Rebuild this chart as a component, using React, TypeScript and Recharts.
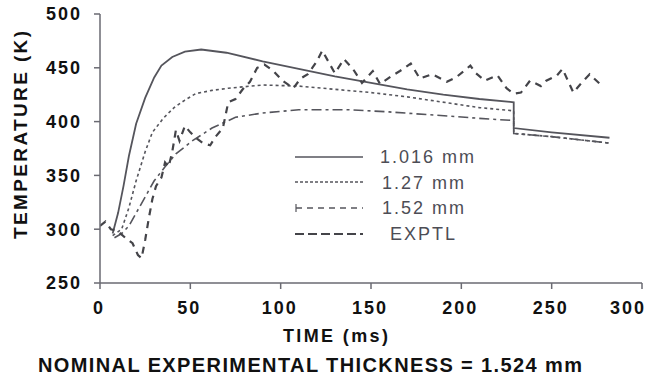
import { LineChart, Line, XAxis, YAxis } from "recharts";

// 1.016 mm prediction (solid)
const thinTimes = [7, 10, 13, 16, 20, 25, 30, 34, 40, 47, 56, 70, 90, 110, 130, 150, 170, 190, 210, 229, 229, 250, 282];
const thinTemps = [296, 315, 340, 368, 398, 422, 441, 452, 460, 465, 467, 464, 456, 449, 442, 436, 430, 425, 421, 418, 394, 390, 385];

// 1.27 mm prediction (dotted)
const midTimes = [7, 12, 16, 20, 25, 29, 35, 41, 47, 53, 62, 71, 90, 110, 130, 150, 170, 194, 210, 229, 229, 250, 282];
const midTemps = [294, 300, 320, 345, 372, 390, 403, 413, 420, 426, 429, 431, 434, 433, 430, 427, 423, 417, 413, 410, 389, 386, 380];

// 1.52 mm prediction (dash-dot)
const thickTimes = [8, 12, 16, 20, 25, 30, 36, 42, 51, 62, 75, 90, 110, 138, 160, 194, 210, 229, 229, 250, 282];
const thickTemps = [292, 296, 303, 315, 330, 345, 358, 370, 382, 394, 404, 408, 411, 411, 409, 405, 403, 401, 389, 386, 380];

// experimental trace
const exptTimes = [
  0, 3, 6, 10, 14, 18, 21, 23, 25, 27, 29, 31, 34, 36, 38, 40, 42, 44, 47, 50, 53, 57, 61, 64, 68,
  71, 75, 79, 83, 87, 91, 96, 101, 107, 111, 115, 120, 123, 127, 130, 135, 140, 145, 151, 155,
  161, 166, 172, 177, 184, 192, 197, 205, 208, 213, 220, 225, 229, 233, 238, 244, 247, 253, 256,
  262, 266, 271, 278,
];
const exptTemps = [
  303, 307, 300, 298, 292, 287, 276, 273, 290, 310, 328, 340, 348, 362, 358, 372, 392, 382, 396, 390,
  385, 380, 378, 386, 394, 418, 421, 430, 437, 450, 453, 447, 438, 431, 440, 444, 456, 466, 454, 445,
  458, 449, 436, 447, 435, 442, 447, 454, 440, 444, 437, 441, 452, 445, 438, 443, 431, 426, 427, 438,
  433, 438, 443, 449, 427, 435, 444, 433,
];

const xTicks = [0, 50, 100, 150, 200, 250, 300];
const yTicks = [250, 300, 350, 400, 450, 500];

const toPoints = (times: number[], temps: number[]) =>
  times.map((t, i) => ({ t, temp: temps[i] }));

const ink = "#55555c";
const font = "'Liberation Sans', Arial, sans-serif";

// x tick labels; the last one sits a bit inside the axis end, as in the print
function TimeTick(props: any) {
  const { x, y, payload } = props;
  const shift = payload.value === 300 ? -13 : -1;
  return (
    <text
      x={x + shift}
      y={y}
      dy="0.71em"
      textAnchor="middle"
      fontSize={18}
      fontWeight={700}
      fill="#111"
      fontFamily={font}
      letterSpacing={2}
    >
      {payload.value}
    </text>
  );
}

export default function App() {
  const tickStyle = { fontSize: 18, fontWeight: 700, fill: "#111", fontFamily: font, letterSpacing: 2 };

  return (
    <div style={{ position: "relative", width: 653, height: 386, background: "#fff" }}>
      <style>{"body{margin:0}"}</style>
      <LineChart width={653} height={386} margin={{ top: 14, right: 11, bottom: 73, left: 40 }}>
        <XAxis
          type="number"
          dataKey="t"
          domain={[0, 300]}
          ticks={xTicks}
          stroke="#6a6a72"
          strokeWidth={1.5}
          tickSize={6}
          tickMargin={12}
          height={30}
          tick={<TimeTick />}
          allowDataOverflow
        />
        <YAxis
          type="number"
          domain={[250, 500]}
          ticks={yTicks}
          stroke="#6a6a72"
          strokeWidth={1.5}
          tickSize={6}
          tickMargin={12}
          width={60}
          tick={tickStyle}
        />
        <Line data={toPoints(thinTimes, thinTemps)} dataKey="temp" stroke={ink} strokeWidth={1.8} dot={false} isAnimationActive={false} />
        <Line data={toPoints(midTimes, midTemps)} dataKey="temp" stroke={ink} strokeWidth={1.6} strokeDasharray="3 3" dot={false} isAnimationActive={false} />
        <Line data={toPoints(thickTimes, thickTemps)} dataKey="temp" stroke={ink} strokeWidth={1.6} strokeDasharray="10 4 3 4" dot={false} isAnimationActive={false} />
        <Line data={toPoints(exptTimes, exptTemps)} dataKey="temp" stroke="#444449" strokeWidth={2.2} strokeDasharray="7 6" dot={false} isAnimationActive={false} />
      </LineChart>

      <svg width={653} height={386} style={{ position: "absolute", left: 0, top: 0, pointerEvents: "none" }}>
        {/* legend */}
        <line x1={295} x2={363} y1={157} y2={157} stroke={ink} strokeWidth={1.6} />
        <line x1={295} x2={363} y1={182} y2={182} stroke={ink} strokeWidth={1.4} strokeDasharray="3 2" />
        <line x1={296} x2={296} y1={204} y2={212} stroke={ink} strokeWidth={1.2} />
        <line x1={296} x2={363} y1={208} y2={208} stroke={ink} strokeWidth={1.4} strokeDasharray="6 5" />
        <line x1={295} x2={363} y1={234} y2={234} stroke="#444449" strokeWidth={2.2} strokeDasharray="9 4" />
        <g fontFamily={font} fontSize={18} fill="#4d4d55" letterSpacing={2}>
          <text x={380} y={163}>1.016 mm</text>
          <text x={382} y={189}>1.27 mm</text>
          <text x={382} y={214}>1.52 mm</text>
          <text x={390} y={240}>EXPTL</text>
        </g>

        {/* axis titles */}
        <g fontFamily={font} fontWeight={700} fill="#111">
          <text
            transform="translate(27 135) rotate(-90)"
            textAnchor="middle"
            fontSize={19}
            textLength={208}
            lengthAdjust="spacing"
          >
            TEMPERATURE (K)
          </text>
          <text x={283} y={342} fontSize={18} textLength={105} lengthAdjust="spacing">
            TIME (ms)
          </text>
          <text x={38} y={372} fontSize={20} textLength={544} lengthAdjust="spacing">
            NOMINAL EXPERIMENTAL THICKNESS = 1.524 mm
          </text>
        </g>
      </svg>
    </div>
  );
}
